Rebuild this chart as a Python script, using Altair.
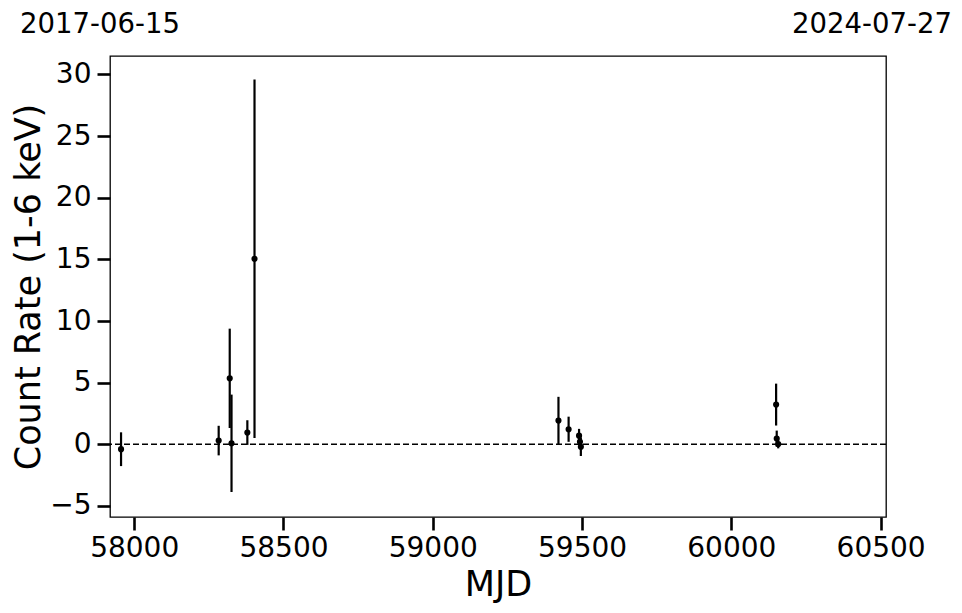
import altair as alt
import pandas as pd

# Data
mjd = [57956, 58283, 58320, 58326, 58379, 58403, 59421, 59455, 59490, 59493, 59496, 60150, 60152, 60157]
rate = [-0.40, 0.30, 5.35, 0.08, 0.95, 15.05, 1.92, 1.22, 0.70, 0.20, -0.20, 3.22, 0.46, 0.02]
err = [1.37, 1.20, 4.03, 3.95, 1.00, 14.55, 1.93, 1.02, 0.55, 0.50, 0.75, 1.70, 0.65, 0.35]

x_ticks = [58000, 58500, 59000, 59500, 60000, 60500]
y_ticks = [-5, 0, 5, 10, 15, 20, 25, 30]
start_mjd, start_label = 57919, "2017-06-15"
end_mjd, end_label = 60518, "2024-07-27"

df = pd.DataFrame({"mjd": mjd, "rate": rate, "err": err})

FONT = "DejaVu Sans"

xs = alt.Scale(domain=[start_mjd, end_mjd], nice=False, zero=False)
ys = alt.Scale(domain=[-5.9, 31.5], nice=False, zero=False)

xaxis = alt.Axis(values=x_ticks, format="d", title="MJD", grid=False, domain=False,
                 tickSize=13, tickWidth=2.6, tickColor="black", labelFontSize=28,
                 labelFont=FONT, labelColor="black", labelPadding=4,
                 titleFont=FONT, titleFontSize=35, titleFontWeight="normal", titleColor="black",
                 titleY=78, titleBaseline="alphabetic")
yaxis = alt.Axis(values=y_ticks, format="d", title="Count Rate (1-6 keV)", grid=False, domain=False,
                 tickSize=13, tickWidth=2.6, tickColor="black", labelFontSize=28,
                 labelFont=FONT, labelColor="black", labelPadding=6,
                 titleFont=FONT, titleFontSize=35, titleFontWeight="normal", titleColor="black",
                 titleX=-82, titleBaseline="middle")

base = alt.Chart(df).transform_calculate(
    lo="datum.rate - datum.err", hi="datum.rate + datum.err"
)

bars = base.mark_rule(color="black", strokeWidth=2.2).encode(
    x=alt.X("mjd:Q", scale=xs, axis=xaxis),
    y=alt.Y("lo:Q", scale=ys, axis=yaxis),
    y2="hi:Q",
)

pts = base.mark_circle(color="black", opacity=1, size=38).encode(
    x=alt.X("mjd:Q", scale=xs),
    y=alt.Y("rate:Q", scale=ys),
)

zero = alt.Chart(pd.DataFrame({"y": [0]})).mark_rule(
    color="black", strokeWidth=1.4, strokeDash=[6, 3]
).encode(y=alt.Y("y:Q", scale=ys))

lab_start = alt.Chart(pd.DataFrame({"mjd": [start_mjd], "t": [start_label]})).mark_text(
    font=FONT, fontSize=27.5, color="black", align="center", baseline="alphabetic", dx=-10
).encode(x=alt.X("mjd:Q", scale=xs), y=alt.value(-23), text="t:N")

lab_end = alt.Chart(pd.DataFrame({"mjd": [end_mjd], "t": [end_label]})).mark_text(
    font=FONT, fontSize=27.5, color="black", align="center", baseline="alphabetic", dx=-14
).encode(x=alt.X("mjd:Q", scale=xs), y=alt.value(-23), text="t:N")

chart = alt.layer(zero, bars, pts, lab_start, lab_end).properties(
    width=776, height=461,
    autosize="none",
    padding={"left": 102, "top": 48, "right": 68, "bottom": 96},
    view=alt.ViewBackground(stroke="black", strokeWidth=1.3),
).configure_view(stroke="black", strokeWidth=1.3).configure(background="white")

chart.save("out.html", embed_options={"renderer": "svg", "actions": False})
